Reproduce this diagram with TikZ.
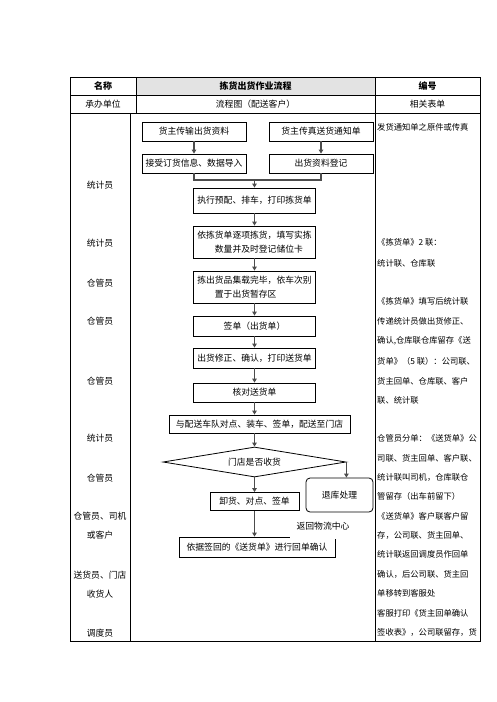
\documentclass[tikz,border=0pt]{standalone}
\usepackage{fontspec}
\setmainfont{Noto Sans CJK SC}
\usetikzlibrary{shapes.geometric,arrows.meta}
\begin{document}
\begin{tikzpicture}[x=1pt,y=-1pt,
  tline/.style={line width=0.8pt,draw=black},
  box/.style={draw=black,line width=0.8pt,inner sep=0pt,font=\fontsize{8.8}{12}\selectfont,align=center},
  lbl/.style={inner sep=0pt,font=\fontsize{8.8}{12}\selectfont},
  rt/.style={inner sep=0pt,anchor=west,font=\fontsize{8.3}{12}\selectfont},
  hd/.style={inner sep=0pt,font=\fontsize{9}{12}\selectfont\bfseries},
  arr/.style={draw=black!70,line width=1.1pt,-{Triangle[length=4pt,width=4.5pt]}},
  ln/.style={draw=black!70,line width=1.1pt}]
\useasboundingbox (0,0) rectangle (496,702);
% table
\fill[gray!22] (136,77) rectangle (375,95);
\draw[tline] (70,77) rectangle (480,641);
\draw[tline] (70,95) -- (480,95);
\draw[tline] (70,113) -- (480,113);
\draw[tline] (136,77) -- (136,113);
\draw[tline] (375,77) -- (375,641);
\draw[tline] (130,113) -- (130,641);
% header
\node[hd] (h1) at (103,86) {名称};
\node[hd] (h2) at (255.5,86) {拣货出货作业流程};
\node[hd] (h3) at (427.5,86) {编号};
\node[lbl] (s1) at (103,104) {承办单位};
\node[lbl] (s2) at (255.5,104) {流程图（配送客户）};
\node[lbl] (s3) at (427.5,104) {相关表单};
% left labels
\node[lbl] (l1) at (100,185) {统计员};
\node[lbl] (l2) at (100,243) {统计员};
\node[lbl] (l3) at (100,283) {仓管员};
\node[lbl] (l4) at (100,321) {仓管员};
\node[lbl] (l5) at (100,381) {仓管员};
\node[lbl] (l6) at (100,438) {统计员};
\node[lbl] (l7) at (100,478) {仓管员};
\node[lbl] (l8) at (100,516) {仓管员、司机};
\node[lbl] (l9) at (100,535) {或客户};
\node[lbl] (l10) at (100,575) {送货员、门店};
\node[lbl] (l11) at (100,594) {收货人};
\node[lbl] (l12) at (100,633) {调度员};
% right column
\node[rt] (r1) at (377,127) {发货通知单之原件或传真};
\node[rt] (r2) at (377,242) {《拣货单》2 联：};
\node[rt] (r3) at (377,263) {统计联、仓库联};
\node[rt] (r4) at (377,301) {《拣货单》填写后统计联};
\node[rt] (r5) at (377,321) {传递统计员做出货修正、};
\node[rt] (r6) at (377,341) {确认,仓库联仓库留存《送};
\node[rt] (r7) at (377,361) {货单》（5 联）：公司联、};
\node[rt] (r8) at (377,381) {货主回单、仓库联、客户};
\node[rt] (r9) at (377,400) {联、统计联};
\node[rt] (r10) at (377,438) {仓管员分单：《送货单》公};
\node[rt] (r11) at (377,458) {司联、货主回单、客户联、};
\node[rt] (r12) at (377,477) {统计联叫司机，仓库联仓};
\node[rt] (r13) at (377,496) {管留存（出车前留下）};
\node[rt] (r14) at (377,516) {《送货单》客户联客户留};
\node[rt] (r15) at (377,535) {存，公司联、货主回单、};
\node[rt] (r16) at (377,554) {统计联返回调度员作回单};
\node[rt] (r17) at (377,574) {确认，后公司联、货主回};
\node[rt] (r18) at (377,593) {单移转到客服处};
\node[rt] (r19) at (377,613) {客服打印《货主回单确认};
\node[rt] (r20) at (377,632) {签收表》，公司联留存，货};
% flow boxes
\node[box,minimum width=104,minimum height=19] (b1) at (194,131.5) {货主传输出货资料};
\node[box,minimum width=104,minimum height=19] (b2) at (321,131.5) {货主传真送货通知单};
\node[box,minimum width=104,minimum height=19] (b3) at (194,163.5) {接受订货信息、数据导入};
\node[box,minimum width=104,minimum height=19] (b4) at (321,163.5) {出货资料登记};
\node[box,minimum width=122,minimum height=25] (b5) at (254.5,200.5) {执行预配、排车，打印拣货单};
\node[box,minimum width=122,minimum height=32,align=left,font=\fontsize{8.8}{14}\selectfont] (b6) at (254.5,242) {依拣货单逐项拣货，填写实拣\\\hspace*{2em}数量并及时登记储位卡};
\node[box,minimum width=122,minimum height=32,align=left,font=\fontsize{8.8}{14}\selectfont] (b7) at (254.5,287) {拣出货品集载完毕，依车次别\\\hspace*{2em}置于出货暂存区};
\node[box,minimum width=122,minimum height=20] (b8) at (254.5,326) {签单（出货单）};
\node[box,minimum width=122,minimum height=20] (b9) at (254.5,358) {出货修正、确认，打印送货单};
\node[box,minimum width=122,minimum height=19] (b10) at (254.5,392.5) {核对送货单};
\node[box,minimum width=181,minimum height=18] (b11) at (259.5,424) {与配送车队对点、装车、签单，配送至门店};
\node[box,shape=diamond,aspect=6,minimum width=183,minimum height=30] (dia) at (254.5,462) {门店是否收货};
\node[box,minimum width=89,minimum height=18] (xh) at (254.5,501.5) {卸货、对点、签单};
\node[box,minimum width=67,minimum height=34,rounded corners=4pt] (tk) at (339.5,495) {退库处理};
\node[box,minimum width=156,minimum height=20] (fin) at (257,547) {依据签回的《送货单》进行回单确认};
\node[lbl,fill=white,minimum width=66,minimum height=25] (fh) at (323,526) {返回物流中心};
% connectors
\coordinate (m) at (254.5,180);
\draw[arr] (b1) -- (b3);
\draw[arr] (b2) -- (b4);
\draw[ln] (b3.south) |- (m) -| (b4.south);
\draw[arr] (m) -- (b5);
\draw[arr] (b5) -- (b6);
\draw[arr] (b6) -- (b7);
\draw[arr] (b7) -- (b8);
\draw[arr] (b8) -- (b9);
\draw[arr] (b9) -- (b10);
\draw[arr] (b10.south) -- (b10.south |- b11.north);
\draw[arr] (b11.south -| dia.north) -- (dia.north);
\draw[arr] (dia.south) -- (xh.north);
\draw[arr] (xh.south) -- (xh.south |- fin.north);
\draw[arr] (dia.east) -- (dia.east |- tk.north);
\end{tikzpicture}
\end{document}
